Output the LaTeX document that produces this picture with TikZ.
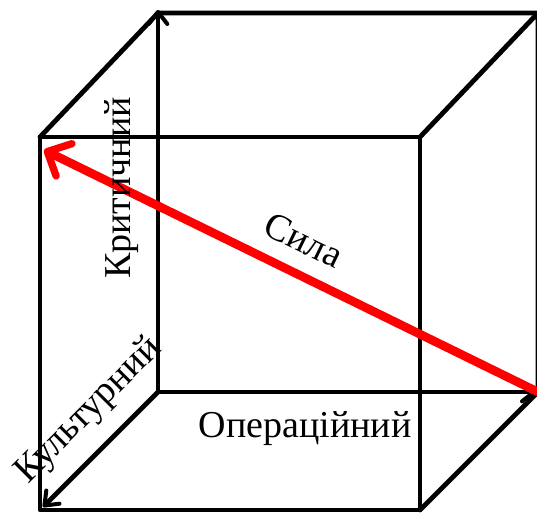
\documentclass[tikz,border=0pt]{standalone}
\usepackage{fontspec}
\setmainfont{Liberation Serif}
\usetikzlibrary{arrows.meta}

\begin{document}
\begin{tikzpicture}[
  x=0.75pt, y=-0.75pt,
  edge/.style={draw, line width=3.6pt, line cap=round, line join=round},
  axis/.style={edge, -{Straight Barb[length=9pt, width=14pt, line width=3pt, round]}},
  force/.style={draw=red, line width=6.5pt, line cap=round,
                -{Straight Barb[length=14pt, width=27pt, line width=5.5pt, round]}},
  lbl/.style={font=\fontsize{28.5}{31}\selectfont, inner sep=0pt}
]
\useasboundingbox (0,0) rectangle (537,514);
\clip (0,0) rectangle (537,514);
% front face
\coordinate (ftl) at (40,137);
\coordinate (ftr) at (420,137);
\coordinate (fbr) at (420,510);
\coordinate (fbl) at (40,510);
% back face
\coordinate (btl) at (158,13);
\coordinate (btr) at (538,13);
\coordinate (bbr) at (538,392);
\coordinate (bbl) at (158,392);
\coordinate (top) at (158,10);
\coordinate (end) at (536,392);
\coordinate (tip) at (44,150);
\coordinate (low) at (43,507);

\draw[edge] (fbl) -- (ftl) -- (ftr) -- (fbr) -- cycle;
\draw[edge] (ftl) -- (btl) -- (btr);
\draw[edge] (ftr) -- (btr) -- (bbr) -- (fbr);
\draw[axis] (bbl) -- (top);
\draw[axis] (bbl) -- (end);
\draw[axis] (bbl) -- (low);
\draw[force] (bbr) -- (tip);

\node[lbl, rotate=90] (krit) at (122,188) {Критичний};
\node[lbl] (oper) at (305,429) {Операційний};
\node[lbl, rotate=-26] (syla) at (304,240) {Сила};
\node[lbl, rotate=45] (kult) at (89,411) {Культурний};
\end{tikzpicture}
\end{document}
